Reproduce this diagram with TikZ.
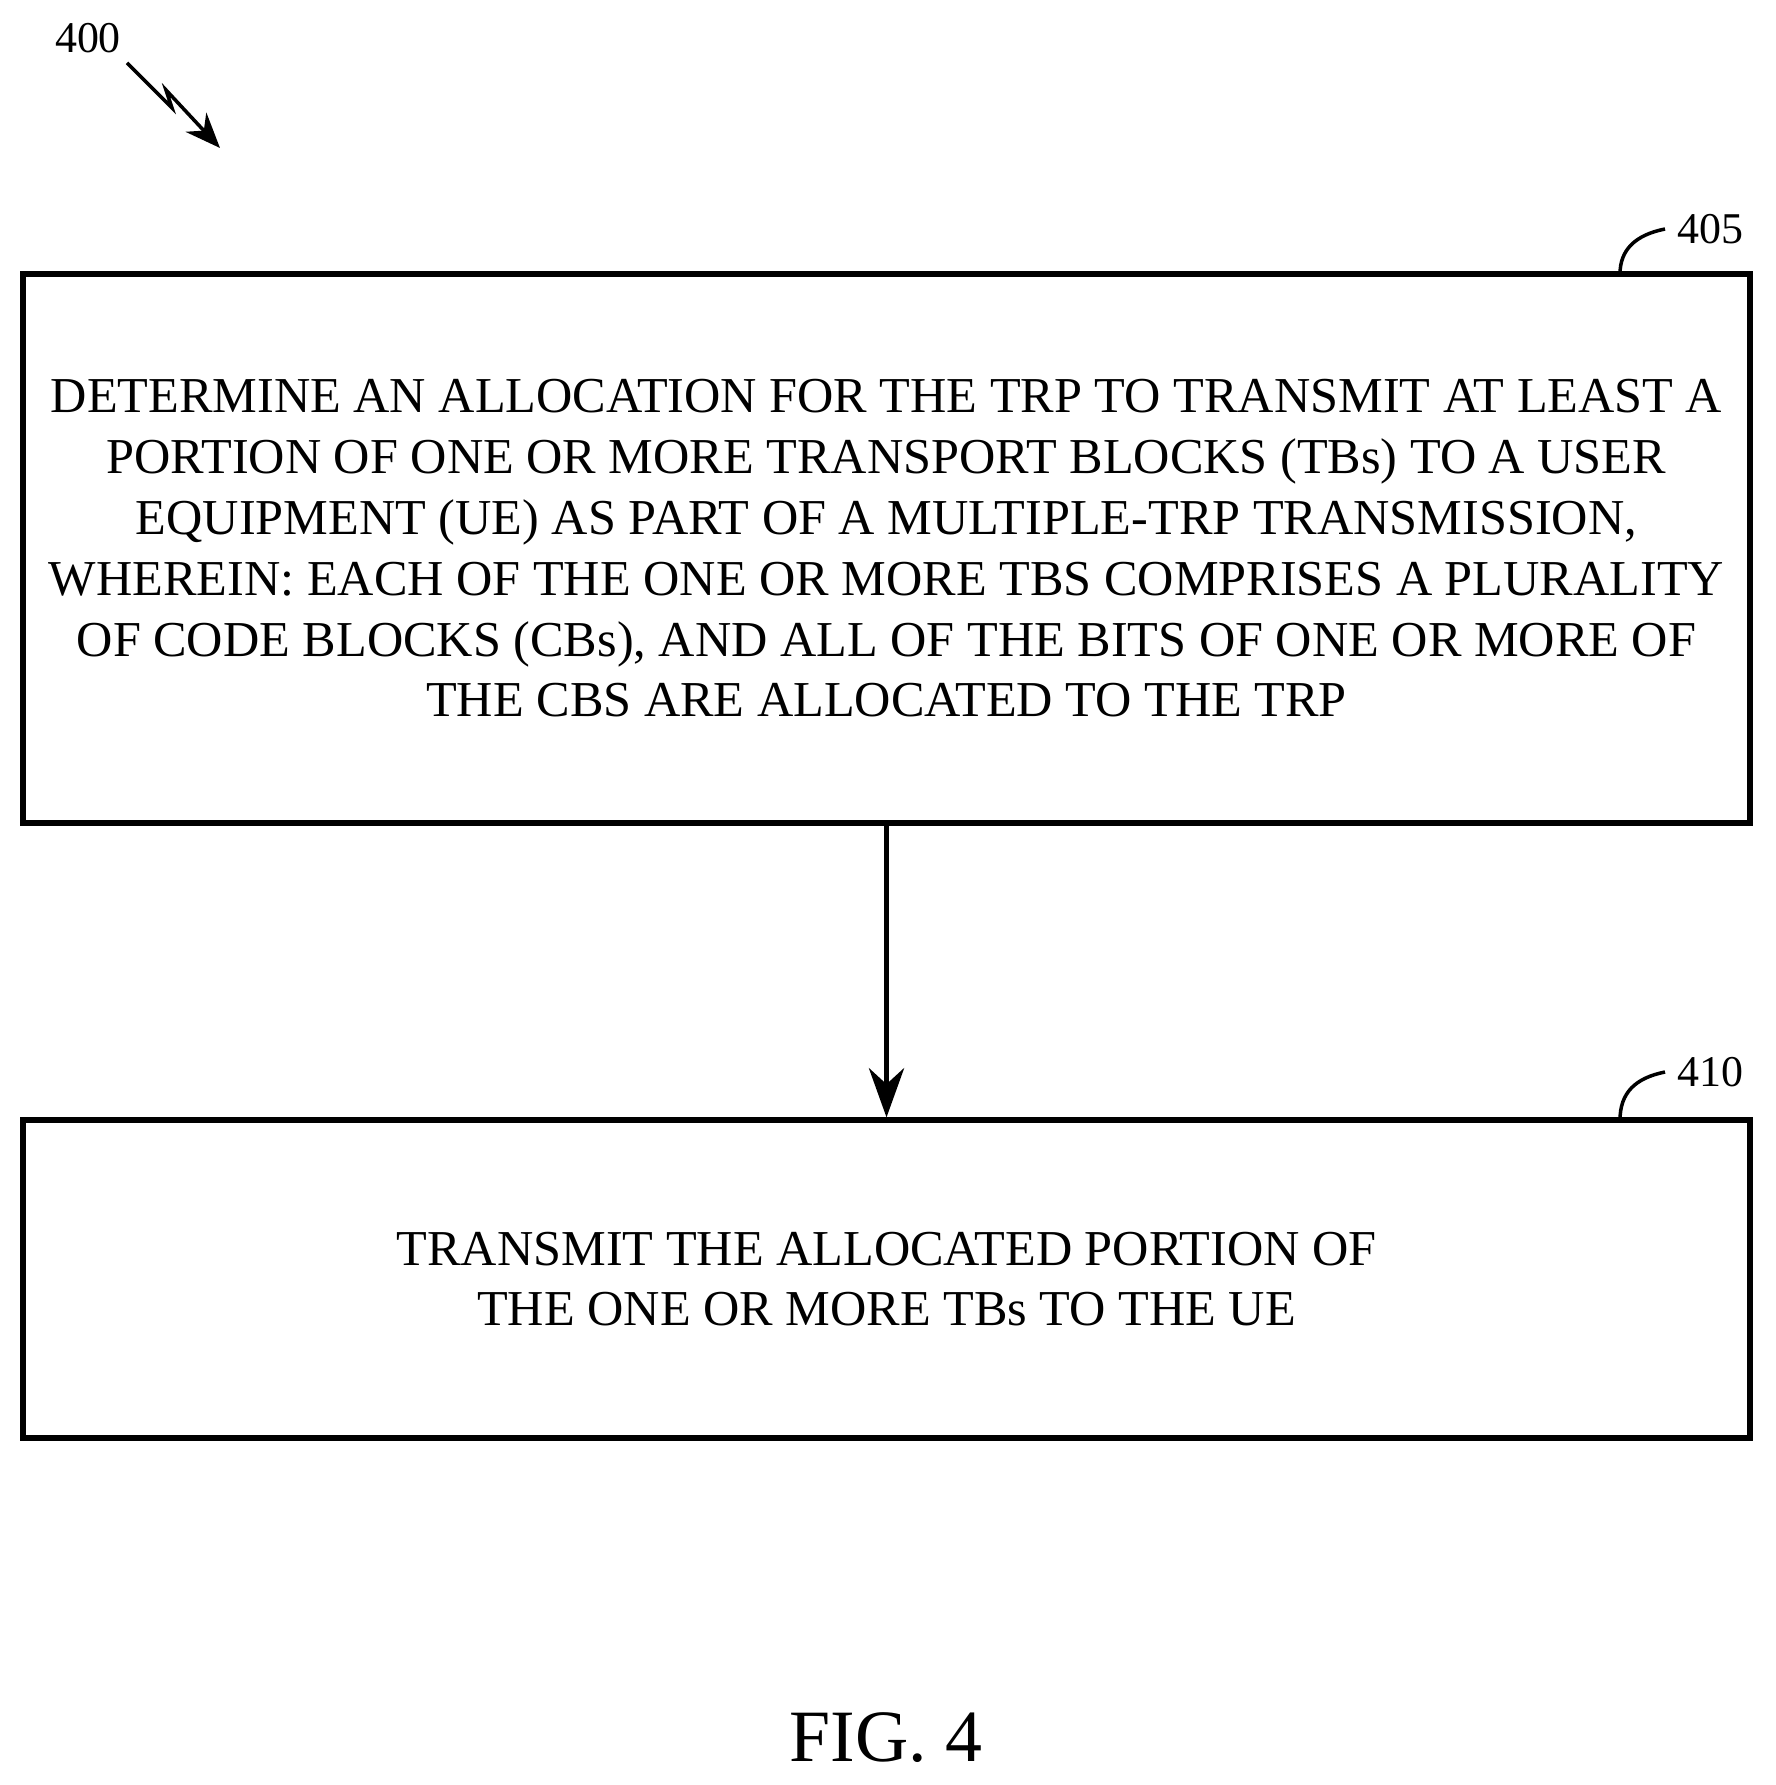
\documentclass[tikz,border=0pt]{standalone}
\usepackage{fontspec}
\setmainfont{Liberation Serif}
\usetikzlibrary{positioning}
\usetikzlibrary{arrows.meta}

\begin{document}
\begin{tikzpicture}[block/.style={draw, line width=1.5pt, minimum width=17.27cm, inner sep=0pt, align=center, font=\fontsize{14.3}{17.3}\selectfont}, ref/.style={font=\fontsize{12.5}{15}\selectfont}]
    \useasboundingbox (0,0) rectangle (17.75,-17.85);

    \node[block, minimum height=5.49cm] at (8.865, -5.485) (s_405) {DETERMINE AN ALLOCATION FOR THE TRP TO TRANSMIT AT LEAST A\\ PORTION OF ONE OR MORE TRANSPORT BLOCKS (TBs) TO A USER\\ EQUIPMENT (UE) AS PART OF A MULTIPLE-TRP TRANSMISSION,\\ WHEREIN: EACH OF THE ONE OR MORE TBS COMPRISES A PLURALITY\\ OF CODE BLOCKS (CBs), AND ALL OF THE BITS OF ONE OR MORE OF\\ THE CBS ARE ALLOCATED TO THE TRP};
    \node[block, minimum height=3.18cm] at (8.865, -12.79) (s_410) {TRANSMIT THE ALLOCATED PORTION OF\\ THE ONE OR MORE TBs TO THE UE};

    % block labels
    \node[ref, anchor=west] at (16.65, -2.29) (l_405) {405};
    \node[ref, anchor=west] at (16.65, -10.72) (l_410) {410};
    \draw[line width=1pt] (l_405.west) .. controls (16.35, -2.35) and (16.2, -2.5) .. (16.2, -2.74);
    \draw[line width=1pt] (l_410.west) .. controls (16.35, -10.78) and (16.2, -10.93) .. (16.2, -11.2);

    % figure label
    \node[ref] at (0.88, -0.38) (fig_num) {400};
    \coordinate (z_end) at (2.2, -1.48);
    \draw[line width=1pt, -{Stealth[length=10pt, width=8pt]}] (1.27, -0.63) -- (1.72, -1.08) -- (1.66, -0.9) -- (z_end);

    \draw[line width=1.5pt, -{Stealth[length=14pt, width=10pt]}] (s_405) -- (s_410);

    \node[font=\fontsize{21}{24}\selectfont] at (8.86, -17.38) (caption) {FIG. 4};
\end{tikzpicture}
\end{document}
